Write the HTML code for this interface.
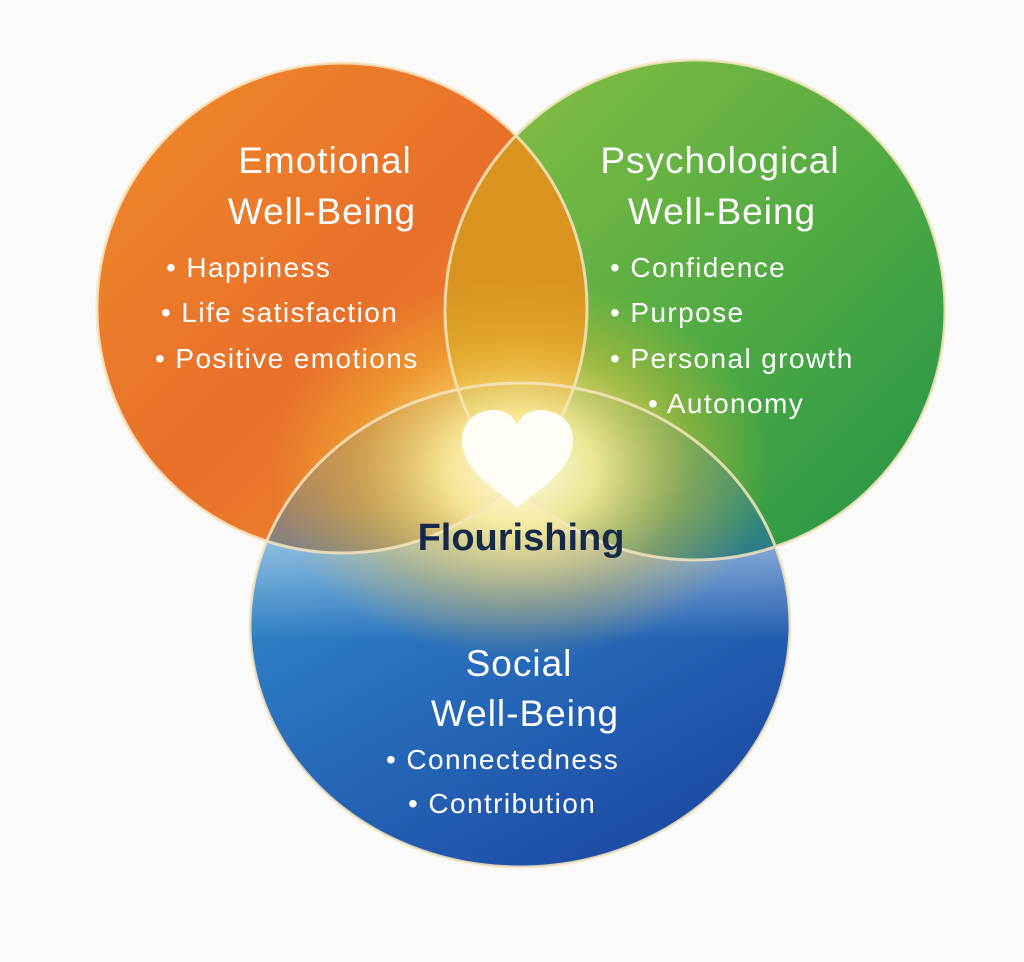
<!DOCTYPE html>
<html><head><meta charset="utf-8"><style>
html,body{margin:0;padding:0;background:#fbfafb;}
svg{display:block}
text{font-family:"Liberation Sans","DejaVu Sans",sans-serif;}
</style></head><body>
<svg width="1024" height="962" viewBox="0 0 1024 962" xmlns="http://www.w3.org/2000/svg">
<defs>
<linearGradient id="og" x1="0" y1="0" x2="1" y2="1">
<stop offset="0" stop-color="#ef8a2a"/><stop offset="0.5" stop-color="#e8702a"/><stop offset="1" stop-color="#ef8f2c"/></linearGradient>
<linearGradient id="gg" x1="0" y1="0" x2="1" y2="1">
<stop offset="0" stop-color="#8cc043"/><stop offset="0.6" stop-color="#4aa843"/><stop offset="1" stop-color="#22914a"/></linearGradient>
<linearGradient id="bg" x1="0" y1="0" x2="0.6" y2="1">
<stop offset="0" stop-color="#3aa0cf"/><stop offset="0.5" stop-color="#2a74c0"/><stop offset="1" stop-color="#1d4ea6"/></linearGradient>
<radialGradient id="glow" cx="0.5" cy="0.5" r="0.5">
<stop offset="0" stop-color="#fffbe6" stop-opacity="1"/><stop offset="0.3" stop-color="#fdef9a" stop-opacity="0.9"/><stop offset="0.7" stop-color="#f2c43a" stop-opacity="0.35"/><stop offset="1" stop-color="#f2c43a" stop-opacity="0"/></radialGradient>
<clipPath id="co"><circle cx="342" cy="308" r="245"/></clipPath>
<mask id="bm"><ellipse cx="520" cy="625" rx="270" ry="242" fill="#fff"/><rect x="240" y="380" width="560" height="260" fill="url(#fadeK)"/></mask>
<linearGradient id="fadeK" x1="0" y1="0" x2="0" y2="1">
<stop offset="0" stop-color="#000" stop-opacity="0.85"/><stop offset="0.5" stop-color="#000" stop-opacity="0.6"/><stop offset="1" stop-color="#000" stop-opacity="0"/></linearGradient>
</defs>
<circle cx="342" cy="308" r="245" fill="url(#og)"/>
<circle cx="695" cy="310" r="250" fill="url(#gg)"/>
<circle cx="695" cy="310" r="250" fill="#d8941f" clip-path="url(#co)"/>
<ellipse cx="520" cy="625" rx="270" ry="242" fill="url(#bg)" mask="url(#bm)"/>
<ellipse cx="520" cy="470" rx="250" ry="190" fill="url(#glow)"/>
<g fill="none" stroke="#f6e6c0" stroke-width="3" opacity="0.85">
<circle cx="342" cy="308" r="245"/>
<circle cx="695" cy="310" r="250"/>
<ellipse cx="520" cy="625" rx="270" ry="242"/>
</g>
<path d="M517,508 C495,488 462,470 462,440 C462,420 478,410 494,410 C505,410 513,416 517,425 C521,416 529,410 540,410 C556,410 573,420 573,440 C573,470 540,488 517,508Z" fill="#fffdf6"/>
<g fill="#fff" font-size="37" letter-spacing="1">
<text x="325" y="173" text-anchor="middle">Emotional</text>
<text x="322" y="224" text-anchor="middle">Well-Being</text>
<text x="720" y="173" text-anchor="middle">Psychological</text>
<text x="722" y="224" text-anchor="middle">Well-Being</text>
<text x="519" y="676" text-anchor="middle">Social</text>
<text x="525" y="726" text-anchor="middle">Well-Being</text>
</g>
<g fill="#fff" font-size="28" letter-spacing="1.4">
<text x="166" y="277">• Happiness</text>
<text x="161" y="322">• Life satisfaction</text>
<text x="155" y="368">• Positive emotions</text>
<text x="610" y="277">• Confidence</text>
<text x="610" y="322">• Purpose</text>
<text x="610" y="368">• Personal growth</text>
<text x="648" y="413">• Autonomy</text>
<text x="386" y="769">• Connectedness</text>
<text x="408" y="813">• Contribution</text>
</g>
<text x="521" y="550" text-anchor="middle" font-size="38" font-weight="bold" fill="#15294a">Flourishing</text>
</svg>
</body></html>
